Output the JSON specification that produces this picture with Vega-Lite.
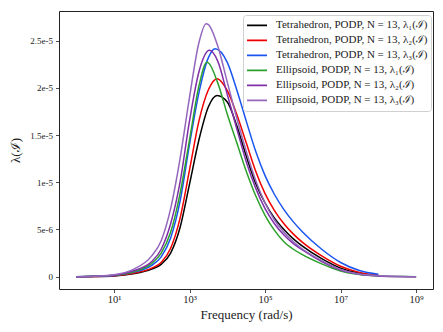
{
  "$schema": "https://vega.github.io/schema/vega-lite/v6.json",
  "width": 374,
  "height": 278,
  "autosize": "none",
  "padding": {"left": 59, "top": 11, "right": 10, "bottom": 43},
  "background": "white",
  "config": {
    "view": {"stroke": "#222222", "strokeWidth": 1},
    "font": "Liberation Serif",
    "axis": {"grid": false, "domain": false, "tickColor": "#222222", "tickSize": 3.5, "tickWidth": 0.8, "labelFont": "Liberation Serif", "labelFontSize": 9, "labelColor": "#222222", "titleFont": "Liberation Serif", "titleFontWeight": "normal", "titleFontSize": 13, "titleColor": "#222222"},
    "legend": {"labelFont": "Liberation Serif", "labelFontSize": 11, "labelColor": "#222222"}
  },
  "data": {"values": [
    {"s":"Tetrahedron, PODP, N = 13, λ₁(ℐ)","f":1,"v":0},
    {"s":"Tetrahedron, PODP, N = 13, λ₁(ℐ)","f":3.162,"v":0.002e-5},
    {"s":"Tetrahedron, PODP, N = 13, λ₁(ℐ)","f":10,"v":0.008e-5},
    {"s":"Tetrahedron, PODP, N = 13, λ₁(ℐ)","f":31.62,"v":0.03e-5},
    {"s":"Tetrahedron, PODP, N = 13, λ₁(ℐ)","f":100,"v":0.08e-5},
    {"s":"Tetrahedron, PODP, N = 13, λ₁(ℐ)","f":177.8,"v":0.13e-5},
    {"s":"Tetrahedron, PODP, N = 13, λ₁(ℐ)","f":316.2,"v":0.25e-5},
    {"s":"Tetrahedron, PODP, N = 13, λ₁(ℐ)","f":562.3,"v":0.52e-5},
    {"s":"Tetrahedron, PODP, N = 13, λ₁(ℐ)","f":1000,"v":0.98e-5},
    {"s":"Tetrahedron, PODP, N = 13, λ₁(ℐ)","f":1778,"v":1.45e-5},
    {"s":"Tetrahedron, PODP, N = 13, λ₁(ℐ)","f":3162,"v":1.8e-5},
    {"s":"Tetrahedron, PODP, N = 13, λ₁(ℐ)","f":5370,"v":1.92e-5},
    {"s":"Tetrahedron, PODP, N = 13, λ₁(ℐ)","f":10000,"v":1.85e-5},
    {"s":"Tetrahedron, PODP, N = 13, λ₁(ℐ)","f":17783,"v":1.6e-5},
    {"s":"Tetrahedron, PODP, N = 13, λ₁(ℐ)","f":31623,"v":1.28e-5},
    {"s":"Tetrahedron, PODP, N = 13, λ₁(ℐ)","f":56234,"v":0.99e-5},
    {"s":"Tetrahedron, PODP, N = 13, λ₁(ℐ)","f":100000,"v":0.78e-5},
    {"s":"Tetrahedron, PODP, N = 13, λ₁(ℐ)","f":177828,"v":0.62e-5},
    {"s":"Tetrahedron, PODP, N = 13, λ₁(ℐ)","f":316228,"v":0.5e-5},
    {"s":"Tetrahedron, PODP, N = 13, λ₁(ℐ)","f":562341,"v":0.4e-5},
    {"s":"Tetrahedron, PODP, N = 13, λ₁(ℐ)","f":1000000,"v":0.32e-5},
    {"s":"Tetrahedron, PODP, N = 13, λ₁(ℐ)","f":3162278,"v":0.19e-5},
    {"s":"Tetrahedron, PODP, N = 13, λ₁(ℐ)","f":10000000,"v":0.09e-5},
    {"s":"Tetrahedron, PODP, N = 13, λ₁(ℐ)","f":31622777,"v":0.035e-5},
    {"s":"Tetrahedron, PODP, N = 13, λ₁(ℐ)","f":100000000,"v":0.012e-5},

    {"s":"Tetrahedron, PODP, N = 13, λ₂(ℐ)","f":1,"v":0},
    {"s":"Tetrahedron, PODP, N = 13, λ₂(ℐ)","f":3.162,"v":0.002e-5},
    {"s":"Tetrahedron, PODP, N = 13, λ₂(ℐ)","f":10,"v":0.009e-5},
    {"s":"Tetrahedron, PODP, N = 13, λ₂(ℐ)","f":31.62,"v":0.035e-5},
    {"s":"Tetrahedron, PODP, N = 13, λ₂(ℐ)","f":100,"v":0.09e-5},
    {"s":"Tetrahedron, PODP, N = 13, λ₂(ℐ)","f":177.8,"v":0.15e-5},
    {"s":"Tetrahedron, PODP, N = 13, λ₂(ℐ)","f":316.2,"v":0.3e-5},
    {"s":"Tetrahedron, PODP, N = 13, λ₂(ℐ)","f":562.3,"v":0.62e-5},
    {"s":"Tetrahedron, PODP, N = 13, λ₂(ℐ)","f":1000,"v":1.13e-5},
    {"s":"Tetrahedron, PODP, N = 13, λ₂(ℐ)","f":1778,"v":1.65e-5},
    {"s":"Tetrahedron, PODP, N = 13, λ₂(ℐ)","f":3162,"v":1.98e-5},
    {"s":"Tetrahedron, PODP, N = 13, λ₂(ℐ)","f":5370,"v":2.097e-5},
    {"s":"Tetrahedron, PODP, N = 13, λ₂(ℐ)","f":10000,"v":1.97e-5},
    {"s":"Tetrahedron, PODP, N = 13, λ₂(ℐ)","f":17783,"v":1.72e-5},
    {"s":"Tetrahedron, PODP, N = 13, λ₂(ℐ)","f":31623,"v":1.42e-5},
    {"s":"Tetrahedron, PODP, N = 13, λ₂(ℐ)","f":56234,"v":1.12e-5},
    {"s":"Tetrahedron, PODP, N = 13, λ₂(ℐ)","f":100000,"v":0.88e-5},
    {"s":"Tetrahedron, PODP, N = 13, λ₂(ℐ)","f":177828,"v":0.7e-5},
    {"s":"Tetrahedron, PODP, N = 13, λ₂(ℐ)","f":316228,"v":0.56e-5},
    {"s":"Tetrahedron, PODP, N = 13, λ₂(ℐ)","f":562341,"v":0.45e-5},
    {"s":"Tetrahedron, PODP, N = 13, λ₂(ℐ)","f":1000000,"v":0.36e-5},
    {"s":"Tetrahedron, PODP, N = 13, λ₂(ℐ)","f":3162278,"v":0.22e-5},
    {"s":"Tetrahedron, PODP, N = 13, λ₂(ℐ)","f":10000000,"v":0.11e-5},
    {"s":"Tetrahedron, PODP, N = 13, λ₂(ℐ)","f":31622777,"v":0.045e-5},
    {"s":"Tetrahedron, PODP, N = 13, λ₂(ℐ)","f":100000000,"v":0.015e-5},

    {"s":"Tetrahedron, PODP, N = 13, λ₃(ℐ)","f":1,"v":0},
    {"s":"Tetrahedron, PODP, N = 13, λ₃(ℐ)","f":3.162,"v":0.003e-5},
    {"s":"Tetrahedron, PODP, N = 13, λ₃(ℐ)","f":10,"v":0.012e-5},
    {"s":"Tetrahedron, PODP, N = 13, λ₃(ℐ)","f":31.62,"v":0.045e-5},
    {"s":"Tetrahedron, PODP, N = 13, λ₃(ℐ)","f":100,"v":0.12e-5},
    {"s":"Tetrahedron, PODP, N = 13, λ₃(ℐ)","f":177.8,"v":0.21e-5},
    {"s":"Tetrahedron, PODP, N = 13, λ₃(ℐ)","f":316.2,"v":0.41e-5},
    {"s":"Tetrahedron, PODP, N = 13, λ₃(ℐ)","f":562.3,"v":0.8e-5},
    {"s":"Tetrahedron, PODP, N = 13, λ₃(ℐ)","f":1000,"v":1.4e-5},
    {"s":"Tetrahedron, PODP, N = 13, λ₃(ℐ)","f":1778,"v":1.95e-5},
    {"s":"Tetrahedron, PODP, N = 13, λ₃(ℐ)","f":3162,"v":2.32e-5},
    {"s":"Tetrahedron, PODP, N = 13, λ₃(ℐ)","f":4786,"v":2.415e-5},
    {"s":"Tetrahedron, PODP, N = 13, λ₃(ℐ)","f":10000,"v":2.27e-5},
    {"s":"Tetrahedron, PODP, N = 13, λ₃(ℐ)","f":17783,"v":1.98e-5},
    {"s":"Tetrahedron, PODP, N = 13, λ₃(ℐ)","f":31623,"v":1.65e-5},
    {"s":"Tetrahedron, PODP, N = 13, λ₃(ℐ)","f":56234,"v":1.33e-5},
    {"s":"Tetrahedron, PODP, N = 13, λ₃(ℐ)","f":100000,"v":1.07e-5},
    {"s":"Tetrahedron, PODP, N = 13, λ₃(ℐ)","f":177828,"v":0.87e-5},
    {"s":"Tetrahedron, PODP, N = 13, λ₃(ℐ)","f":316228,"v":0.71e-5},
    {"s":"Tetrahedron, PODP, N = 13, λ₃(ℐ)","f":562341,"v":0.58e-5},
    {"s":"Tetrahedron, PODP, N = 13, λ₃(ℐ)","f":1000000,"v":0.47e-5},
    {"s":"Tetrahedron, PODP, N = 13, λ₃(ℐ)","f":3162278,"v":0.29e-5},
    {"s":"Tetrahedron, PODP, N = 13, λ₃(ℐ)","f":10000000,"v":0.15e-5},
    {"s":"Tetrahedron, PODP, N = 13, λ₃(ℐ)","f":31622777,"v":0.065e-5},
    {"s":"Tetrahedron, PODP, N = 13, λ₃(ℐ)","f":100000000,"v":0.025e-5},

    {"s":"Ellipsoid, PODP, N = 13, λ₁(ℐ)","f":1,"v":0},
    {"s":"Ellipsoid, PODP, N = 13, λ₁(ℐ)","f":3.162,"v":0.004e-5},
    {"s":"Ellipsoid, PODP, N = 13, λ₁(ℐ)","f":10,"v":0.015e-5},
    {"s":"Ellipsoid, PODP, N = 13, λ₁(ℐ)","f":31.62,"v":0.05e-5},
    {"s":"Ellipsoid, PODP, N = 13, λ₁(ℐ)","f":100,"v":0.14e-5},
    {"s":"Ellipsoid, PODP, N = 13, λ₁(ℐ)","f":177.8,"v":0.25e-5},
    {"s":"Ellipsoid, PODP, N = 13, λ₁(ℐ)","f":316.2,"v":0.47e-5},
    {"s":"Ellipsoid, PODP, N = 13, λ₁(ℐ)","f":562.3,"v":0.88e-5},
    {"s":"Ellipsoid, PODP, N = 13, λ₁(ℐ)","f":1000,"v":1.45e-5},
    {"s":"Ellipsoid, PODP, N = 13, λ₁(ℐ)","f":1778,"v":2.02e-5},
    {"s":"Ellipsoid, PODP, N = 13, λ₁(ℐ)","f":2884,"v":2.27e-5},
    {"s":"Ellipsoid, PODP, N = 13, λ₁(ℐ)","f":3162,"v":2.265e-5},
    {"s":"Ellipsoid, PODP, N = 13, λ₁(ℐ)","f":5623,"v":2.05e-5},
    {"s":"Ellipsoid, PODP, N = 13, λ₁(ℐ)","f":10000,"v":1.72e-5},
    {"s":"Ellipsoid, PODP, N = 13, λ₁(ℐ)","f":17783,"v":1.42e-5},
    {"s":"Ellipsoid, PODP, N = 13, λ₁(ℐ)","f":31623,"v":1.12e-5},
    {"s":"Ellipsoid, PODP, N = 13, λ₁(ℐ)","f":56234,"v":0.86e-5},
    {"s":"Ellipsoid, PODP, N = 13, λ₁(ℐ)","f":100000,"v":0.65e-5},
    {"s":"Ellipsoid, PODP, N = 13, λ₁(ℐ)","f":177828,"v":0.49e-5},
    {"s":"Ellipsoid, PODP, N = 13, λ₁(ℐ)","f":316228,"v":0.37e-5},
    {"s":"Ellipsoid, PODP, N = 13, λ₁(ℐ)","f":562341,"v":0.29e-5},
    {"s":"Ellipsoid, PODP, N = 13, λ₁(ℐ)","f":1000000,"v":0.23e-5},
    {"s":"Ellipsoid, PODP, N = 13, λ₁(ℐ)","f":3162278,"v":0.135e-5},
    {"s":"Ellipsoid, PODP, N = 13, λ₁(ℐ)","f":10000000,"v":0.06e-5},
    {"s":"Ellipsoid, PODP, N = 13, λ₁(ℐ)","f":31622777,"v":0.022e-5},
    {"s":"Ellipsoid, PODP, N = 13, λ₁(ℐ)","f":100000000,"v":0.007e-5},
    {"s":"Ellipsoid, PODP, N = 13, λ₁(ℐ)","f":316227766,"v":0.002e-5},
    {"s":"Ellipsoid, PODP, N = 13, λ₁(ℐ)","f":1000000000,"v":0},

    {"s":"Ellipsoid, PODP, N = 13, λ₂(ℐ)","f":1,"v":0},
    {"s":"Ellipsoid, PODP, N = 13, λ₂(ℐ)","f":3.162,"v":0.004e-5},
    {"s":"Ellipsoid, PODP, N = 13, λ₂(ℐ)","f":10,"v":0.015e-5},
    {"s":"Ellipsoid, PODP, N = 13, λ₂(ℐ)","f":31.62,"v":0.06e-5},
    {"s":"Ellipsoid, PODP, N = 13, λ₂(ℐ)","f":100,"v":0.16e-5},
    {"s":"Ellipsoid, PODP, N = 13, λ₂(ℐ)","f":177.8,"v":0.29e-5},
    {"s":"Ellipsoid, PODP, N = 13, λ₂(ℐ)","f":316.2,"v":0.56e-5},
    {"s":"Ellipsoid, PODP, N = 13, λ₂(ℐ)","f":562.3,"v":1.0e-5},
    {"s":"Ellipsoid, PODP, N = 13, λ₂(ℐ)","f":1000,"v":1.65e-5},
    {"s":"Ellipsoid, PODP, N = 13, λ₂(ℐ)","f":1778,"v":2.17e-5},
    {"s":"Ellipsoid, PODP, N = 13, λ₂(ℐ)","f":3388,"v":2.397e-5},
    {"s":"Ellipsoid, PODP, N = 13, λ₂(ℐ)","f":5623,"v":2.28e-5},
    {"s":"Ellipsoid, PODP, N = 13, λ₂(ℐ)","f":10000,"v":1.93e-5},
    {"s":"Ellipsoid, PODP, N = 13, λ₂(ℐ)","f":17783,"v":1.57e-5},
    {"s":"Ellipsoid, PODP, N = 13, λ₂(ℐ)","f":31623,"v":1.22e-5},
    {"s":"Ellipsoid, PODP, N = 13, λ₂(ℐ)","f":56234,"v":0.94e-5},
    {"s":"Ellipsoid, PODP, N = 13, λ₂(ℐ)","f":100000,"v":0.72e-5},
    {"s":"Ellipsoid, PODP, N = 13, λ₂(ℐ)","f":177828,"v":0.56e-5},
    {"s":"Ellipsoid, PODP, N = 13, λ₂(ℐ)","f":316228,"v":0.44e-5},
    {"s":"Ellipsoid, PODP, N = 13, λ₂(ℐ)","f":562341,"v":0.35e-5},
    {"s":"Ellipsoid, PODP, N = 13, λ₂(ℐ)","f":1000000,"v":0.28e-5},
    {"s":"Ellipsoid, PODP, N = 13, λ₂(ℐ)","f":3162278,"v":0.16e-5},
    {"s":"Ellipsoid, PODP, N = 13, λ₂(ℐ)","f":10000000,"v":0.07e-5},
    {"s":"Ellipsoid, PODP, N = 13, λ₂(ℐ)","f":31622777,"v":0.025e-5},
    {"s":"Ellipsoid, PODP, N = 13, λ₂(ℐ)","f":100000000,"v":0.008e-5},
    {"s":"Ellipsoid, PODP, N = 13, λ₂(ℐ)","f":316227766,"v":0.002e-5},
    {"s":"Ellipsoid, PODP, N = 13, λ₂(ℐ)","f":1000000000,"v":0},

    {"s":"Ellipsoid, PODP, N = 13, λ₃(ℐ)","f":1,"v":0},
    {"s":"Ellipsoid, PODP, N = 13, λ₃(ℐ)","f":3.162,"v":0.005e-5},
    {"s":"Ellipsoid, PODP, N = 13, λ₃(ℐ)","f":10,"v":0.02e-5},
    {"s":"Ellipsoid, PODP, N = 13, λ₃(ℐ)","f":31.62,"v":0.075e-5},
    {"s":"Ellipsoid, PODP, N = 13, λ₃(ℐ)","f":100,"v":0.22e-5},
    {"s":"Ellipsoid, PODP, N = 13, λ₃(ℐ)","f":177.8,"v":0.38e-5},
    {"s":"Ellipsoid, PODP, N = 13, λ₃(ℐ)","f":316.2,"v":0.72e-5},
    {"s":"Ellipsoid, PODP, N = 13, λ₃(ℐ)","f":562.3,"v":1.25e-5},
    {"s":"Ellipsoid, PODP, N = 13, λ₃(ℐ)","f":1000,"v":1.9e-5},
    {"s":"Ellipsoid, PODP, N = 13, λ₃(ℐ)","f":1778,"v":2.48e-5},
    {"s":"Ellipsoid, PODP, N = 13, λ₃(ℐ)","f":2754,"v":2.68e-5},
    {"s":"Ellipsoid, PODP, N = 13, λ₃(ℐ)","f":3162,"v":2.67e-5},
    {"s":"Ellipsoid, PODP, N = 13, λ₃(ℐ)","f":5623,"v":2.44e-5},
    {"s":"Ellipsoid, PODP, N = 13, λ₃(ℐ)","f":10000,"v":2.06e-5},
    {"s":"Ellipsoid, PODP, N = 13, λ₃(ℐ)","f":17783,"v":1.68e-5},
    {"s":"Ellipsoid, PODP, N = 13, λ₃(ℐ)","f":31623,"v":1.33e-5},
    {"s":"Ellipsoid, PODP, N = 13, λ₃(ℐ)","f":56234,"v":1.02e-5},
    {"s":"Ellipsoid, PODP, N = 13, λ₃(ℐ)","f":100000,"v":0.78e-5},
    {"s":"Ellipsoid, PODP, N = 13, λ₃(ℐ)","f":177828,"v":0.6e-5},
    {"s":"Ellipsoid, PODP, N = 13, λ₃(ℐ)","f":316228,"v":0.47e-5},
    {"s":"Ellipsoid, PODP, N = 13, λ₃(ℐ)","f":562341,"v":0.37e-5},
    {"s":"Ellipsoid, PODP, N = 13, λ₃(ℐ)","f":1000000,"v":0.29e-5},
    {"s":"Ellipsoid, PODP, N = 13, λ₃(ℐ)","f":3162278,"v":0.17e-5},
    {"s":"Ellipsoid, PODP, N = 13, λ₃(ℐ)","f":10000000,"v":0.075e-5},
    {"s":"Ellipsoid, PODP, N = 13, λ₃(ℐ)","f":31622777,"v":0.027e-5},
    {"s":"Ellipsoid, PODP, N = 13, λ₃(ℐ)","f":100000000,"v":0.009e-5},
    {"s":"Ellipsoid, PODP, N = 13, λ₃(ℐ)","f":316227766,"v":0.002e-5},
    {"s":"Ellipsoid, PODP, N = 13, λ₃(ℐ)","f":1000000000,"v":0}
  ]},
  "mark": {"type": "line", "interpolate": "monotone", "strokeWidth": 1.5},
  "encoding": {
    "x": {"field": "f", "type": "quantitative",
      "scale": {"type": "log", "domain": [0.35, 2800000000], "nice": false},
      "axis": {"title": "Frequency (rad/s)", "values": [10, 1000, 100000, 10000000, 1000000000],
        "labelExpr": "'10' + ({'1':'¹','3':'³','5':'⁵','7':'⁷','9':'⁹'})[round(log(datum.value)/LN10)]",
        "labelFontSize": 10.5, "labelPadding": 2, "titlePadding": 3}},
    "y": {"field": "v", "type": "quantitative",
      "scale": {"domain": [-0.00000131, 0.00002814], "nice": false, "zero": false},
      "axis": {"title": "λ(ℐ)", "values": [0, 0.000005, 0.00001, 0.000015, 0.00002, 0.000025],
        "labelExpr": "datum.value == 0 ? '0' : format(datum.value, '.1~e')",
        "labelPadding": 3, "titlePadding": 7}},
    "color": {"field": "s", "type": "nominal",
      "scale": {
        "domain": ["Tetrahedron, PODP, N = 13, λ₁(ℐ)", "Tetrahedron, PODP, N = 13, λ₂(ℐ)", "Tetrahedron, PODP, N = 13, λ₃(ℐ)", "Ellipsoid, PODP, N = 13, λ₁(ℐ)", "Ellipsoid, PODP, N = 13, λ₂(ℐ)", "Ellipsoid, PODP, N = 13, λ₃(ℐ)"],
        "range": ["#000000", "#f00000", "#1a55f0", "#2ca02c", "#8030a8", "#9467bd"]},
      "legend": {"title": null, "orient": "none", "legendX": 184, "legendY": 4,
        "labelFont": "Liberation Serif", "labelFontSize": 11, "labelLimit": 200,
        "symbolType": "stroke", "symbolSize": 400, "symbolStrokeWidth": 1.8,
        "clipHeight": 14.67, "rowPadding": 0, "labelOffset": 8, "padding": 3,
        "strokeColor": "#d0d0d0", "fillColor": "white", "cornerRadius": 3}}
  }
}
